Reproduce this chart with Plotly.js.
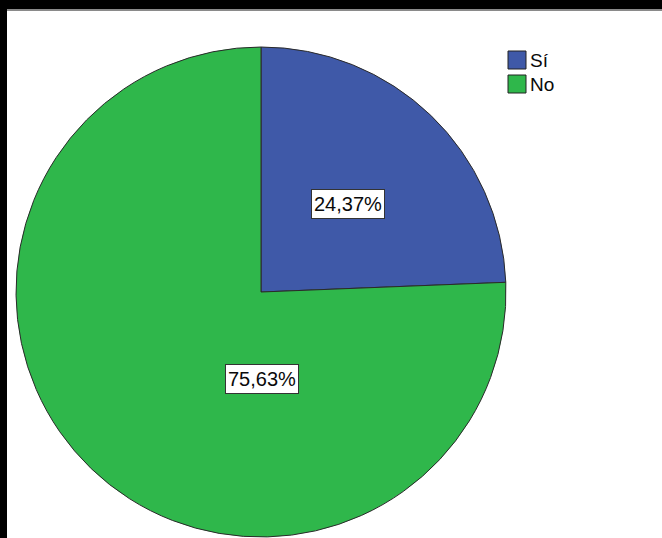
<!DOCTYPE html>
<html>
<head>
<meta charset="utf-8">
<script src="https://cdn.plot.ly/plotly-3.0.1.min.js"></script>
<style>
html,body{margin:0;padding:0;background:#fff;}
#chart{width:662px;height:538px;}
</style>
</head>
<body>
<div id="chart"></div>
<script>
// Data
const categories = ['Sí', 'No'];
const percentValues = [24.37, 75.63];
const sliceColors = ['#3f59a8', '#2fb74b'];

const W = 662, H = 538;
const px = x => x / W;
const py = y => 1 - y / H;

function fmt(v) { return v.toFixed(2).replace('.', ',') + '%'; }

const trace = {
  type: 'pie',
  labels: categories,
  values: percentValues,
  sort: false,
  direction: 'clockwise',
  rotation: 0,
  textinfo: 'none',
  hoverinfo: 'label+percent',
  marker: { colors: sliceColors, line: { color: '#2a2a2a', width: 1 } },
  domain: { x: [px(16), px(506)], y: [py(537), py(47)] },
  showlegend: false
};

const labelPos = [[348, 204], [262, 379]];
const annotations = categories.map((c, i) => ({
  xref: 'paper', yref: 'paper',
  x: px(labelPos[i][0]), y: py(labelPos[i][1]),
  xanchor: 'center', yanchor: 'middle',
  text: fmt(percentValues[i]),
  showarrow: false,
  width: 68, height: 24,
  font: { family: 'Liberation Sans, Arial, sans-serif', size: 20, color: '#0a0a0a' },
  bgcolor: '#ffffff', bordercolor: '#333333', borderwidth: 1, borderpad: 2
}));

const shapes = [
  { type: 'rect', xref: 'paper', yref: 'paper', x0: 0, x1: 1, y0: py(9), y1: 1, fillcolor: '#000', line: { width: 0 } },
  { type: 'rect', xref: 'paper', yref: 'paper', x0: px(7), x1: 1, y0: py(11), y1: py(9), fillcolor: '#8a8a8a', line: { width: 0 } },
  { type: 'rect', xref: 'paper', yref: 'paper', x0: 0, x1: px(7), y0: 0, y1: 1, fillcolor: '#000', line: { width: 0 } }
];

// custom legend
const legendTop = [51, 75];
categories.forEach((c, i) => {
  shapes.push({
    type: 'rect', xref: 'paper', yref: 'paper',
    x0: px(508), x1: px(526), y0: py(legendTop[i] + 18), y1: py(legendTop[i]),
    fillcolor: sliceColors[i], line: { color: '#222', width: 1 }
  });
  annotations.push({
    xref: 'paper', yref: 'paper',
    x: px(528), y: py(legendTop[i] + 9),
    xanchor: 'left', yanchor: 'middle',
    text: c, showarrow: false,
    font: { family: 'Liberation Sans, Arial, sans-serif', size: 19, color: '#0a0a0a' }
  });
});

const layout = {
  width: W, height: H,
  margin: { l: 0, r: 0, t: 0, b: 0 },
  paper_bgcolor: '#ffffff',
  showlegend: false,
  shapes: shapes,
  annotations: annotations
};

Plotly.newPlot('chart', [trace], layout, { displayModeBar: false, staticPlot: true });
</script>
</body>
</html>
